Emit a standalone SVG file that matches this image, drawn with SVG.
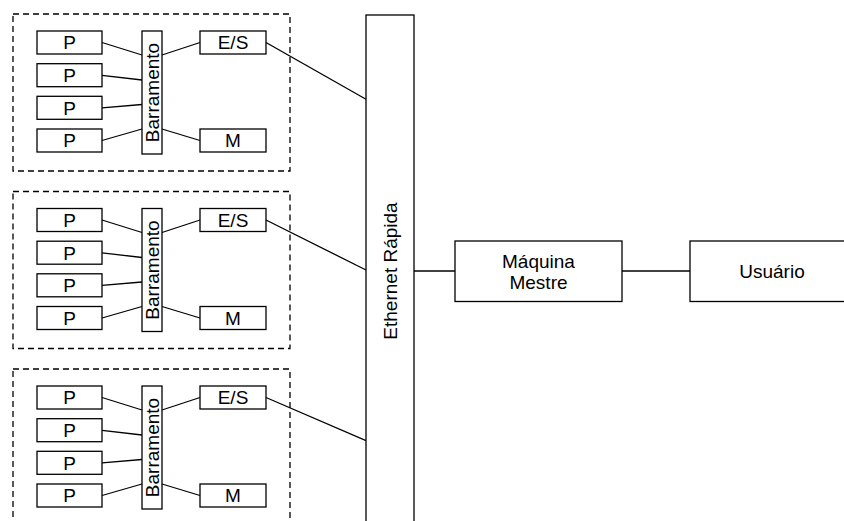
<svg xmlns="http://www.w3.org/2000/svg" width="844" height="521" viewBox="0 0 844 521">
<style>
.box{fill:#fff;stroke:#000;stroke-width:1.3}
.dash{fill:none;stroke:#000;stroke-width:1.3;stroke-dasharray:6 4}
.ln{fill:none;stroke:#000;stroke-width:1.3}
text{font-family:"Liberation Sans",Arial,sans-serif;font-size:19px;fill:#000;text-anchor:middle}
</style>
<g id="cluster1">
<rect class="dash" x="13" y="14" width="277" height="157"/>
<g id="c1-p1"><rect class="box" x="37" y="31" width="65" height="23"/><text x="69.5" y="49.3">P</text></g>
<g id="c1-p2"><rect class="box" x="37" y="63.7" width="65" height="23"/><text x="69.5" y="82">P</text></g>
<g id="c1-p3"><rect class="box" x="37" y="96.3" width="65" height="23"/><text x="69.5" y="114.6">P</text></g>
<g id="c1-p4"><rect class="box" x="37" y="129" width="65" height="23"/><text x="69.5" y="147.3">P</text></g>
<g id="c1-bus"><rect class="box" x="142" y="31" width="20" height="123"/><text transform="translate(159,92.5) rotate(-90)">Barramento</text></g>
<g id="c1-es"><rect class="box" x="200" y="31" width="66" height="23"/><text x="233" y="49.3">E/S</text></g>
<g id="c1-m"><rect class="box" x="200" y="129" width="66" height="23"/><text x="233" y="147.3">M</text></g>
</g>
<g id="cluster2">
<rect class="dash" x="13" y="191.5" width="277" height="157"/>
<g id="c2-p1"><rect class="box" x="37" y="208.5" width="65" height="23"/><text x="69.5" y="226.8">P</text></g>
<g id="c2-p2"><rect class="box" x="37" y="241.2" width="65" height="23"/><text x="69.5" y="259.5">P</text></g>
<g id="c2-p3"><rect class="box" x="37" y="273.8" width="65" height="23"/><text x="69.5" y="292.1">P</text></g>
<g id="c2-p4"><rect class="box" x="37" y="306.5" width="65" height="23"/><text x="69.5" y="324.8">P</text></g>
<g id="c2-bus"><rect class="box" x="142" y="208.5" width="20" height="123"/><text transform="translate(159,270) rotate(-90)">Barramento</text></g>
<g id="c2-es"><rect class="box" x="200" y="208.5" width="66" height="23"/><text x="233" y="226.8">E/S</text></g>
<g id="c2-m"><rect class="box" x="200" y="306.5" width="66" height="23"/><text x="233" y="324.8">M</text></g>
</g>
<g id="cluster3">
<rect class="dash" x="13" y="369" width="277" height="157"/>
<g id="c3-p1"><rect class="box" x="37" y="386" width="65" height="23"/><text x="69.5" y="404.3">P</text></g>
<g id="c3-p2"><rect class="box" x="37" y="418.7" width="65" height="23"/><text x="69.5" y="437">P</text></g>
<g id="c3-p3"><rect class="box" x="37" y="451.3" width="65" height="23"/><text x="69.5" y="469.6">P</text></g>
<g id="c3-p4"><rect class="box" x="37" y="484" width="65" height="23"/><text x="69.5" y="502.3">P</text></g>
<g id="c3-bus"><rect class="box" x="142" y="386" width="20" height="123"/><text transform="translate(159,447.5) rotate(-90)">Barramento</text></g>
<g id="c3-es"><rect class="box" x="200" y="386" width="66" height="23"/><text x="233" y="404.3">E/S</text></g>
<g id="c3-m"><rect class="box" x="200" y="484" width="66" height="23"/><text x="233" y="502.3">M</text></g>
</g>
<g id="connectors" class="ln">
<line x1="102" y1="42.5" x2="142" y2="55"/>
<line x1="102" y1="75.3" x2="142" y2="80"/>
<line x1="102" y1="107.8" x2="142" y2="104.5"/>
<line x1="102" y1="140.5" x2="142" y2="129"/>
<line x1="162" y1="55" x2="200" y2="42.5"/>
<line x1="162" y1="129" x2="200" y2="140.5"/>
<line x1="102" y1="220" x2="142" y2="232.5"/>
<line x1="102" y1="252.8" x2="142" y2="257.5"/>
<line x1="102" y1="285.3" x2="142" y2="282"/>
<line x1="102" y1="318" x2="142" y2="306.5"/>
<line x1="162" y1="232.5" x2="200" y2="220"/>
<line x1="162" y1="306.5" x2="200" y2="318"/>
<line x1="102" y1="397.5" x2="142" y2="410"/>
<line x1="102" y1="430.3" x2="142" y2="435"/>
<line x1="102" y1="462.8" x2="142" y2="459.5"/>
<line x1="102" y1="495.5" x2="142" y2="484"/>
<line x1="162" y1="410" x2="200" y2="397.5"/>
<line x1="162" y1="484" x2="200" y2="495.5"/>
<line x1="266" y1="42.5" x2="366" y2="99.3"/>
<line x1="266" y1="220" x2="366" y2="270"/>
<line x1="266" y1="397.5" x2="366" y2="440.7"/>
<line x1="414" y1="271" x2="455" y2="271"/>
<line x1="622" y1="271" x2="690" y2="271"/>
</g>
<g id="ethernet">
<rect class="box" x="366" y="15" width="48" height="520"/>
<text transform="translate(396.5,271) rotate(-90)">Ethernet Rápida</text>
</g>
<g id="maquina">
<rect class="box" x="455" y="241" width="167" height="60.5"/>
<text x="538.5" y="267.8">Máquina</text>
<text x="538.5" y="288.8">Mestre</text>
</g>
<g id="usuario">
<rect class="box" x="690" y="241" width="164" height="60.5"/>
<text x="772" y="278.3">Usuário</text>
</g>
</svg>
